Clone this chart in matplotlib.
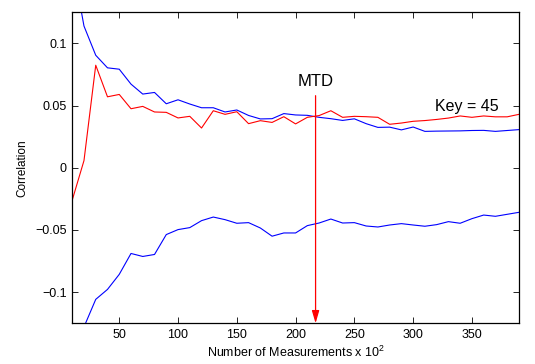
import matplotlib
matplotlib.use("Agg")
import matplotlib.pyplot as plt

plt.rcParams['font.family'] = ['Liberation Sans', 'DejaVu Sans']
plt.rcParams['mathtext.fontset'] = 'custom'
plt.rcParams['mathtext.rm'] = 'Liberation Sans'
plt.rcParams['mathtext.it'] = 'Liberation Sans:italic'

# Number of measurements (x 10^2)
measurements = list(range(10, 400, 10))

# Upper bound of wrong-key correlations (blue)
upper_blue = [0.166, 0.114, 0.0905, 0.0804, 0.0793, 0.0673, 0.0593, 0.0606, 0.0515, 0.0547,
              0.0513, 0.0483, 0.0483, 0.0449, 0.0465, 0.0421, 0.0393, 0.0395, 0.0436, 0.0425,
              0.0422, 0.0406, 0.0395, 0.0381, 0.0394, 0.0355, 0.0325, 0.0327, 0.0305, 0.0328,
              0.0293, 0.0295, 0.0296, 0.0297, 0.0300, 0.0301, 0.0293, 0.0300, 0.0307]

# Correct key correlation (red)
key_red = [-0.026, 0.0058, 0.0825, 0.0571, 0.0590, 0.0475, 0.0494, 0.0449, 0.0446, 0.0401,
           0.0414, 0.0320, 0.0459, 0.0430, 0.0451, 0.0355, 0.0379, 0.0365, 0.0411, 0.0353,
           0.0406, 0.0420, 0.0459, 0.0406, 0.0414, 0.0411, 0.0406, 0.0350, 0.0360, 0.0374,
           0.0380, 0.0389, 0.0400, 0.0417, 0.0406, 0.0417, 0.0410, 0.0410, 0.0430]

# Lower bound of wrong-key correlations (blue)
lower_blue = [-0.170, -0.128, -0.1058, -0.0978, -0.0857, -0.0689, -0.0713, -0.0697, -0.0537, -0.0497,
              -0.0481, -0.0425, -0.0396, -0.0417, -0.0446, -0.0441, -0.0484, -0.0550, -0.0524, -0.0524,
              -0.0465, -0.0444, -0.0412, -0.0444, -0.0441, -0.0468, -0.0476, -0.0460, -0.0449, -0.0460,
              -0.0470, -0.0457, -0.0433, -0.0446, -0.0409, -0.0380, -0.0390, -0.0374, -0.0358]

x_ticks = [50, 100, 150, 200, 250, 300, 350]
y_ticks = [-0.1, -0.05, 0, 0.05, 0.1]
y_tick_labels = ['\u22120.1', '\u22120.05', '0', '0.05', '0.1']

mtd_x = 217
mtd_top = 0.058
mtd_label_y = 0.066
key_label = 'Key = 45'
key_pos = (346, 0.046)

fig = plt.figure(figsize=(5.35, 3.64), dpi=100)
ax = fig.add_axes([0.135, 0.112, 0.835, 0.854])

ax.plot(measurements, upper_blue, color='#0000ff', lw=0.8)
ax.plot(measurements, key_red, color='#ff0000', lw=0.8)
ax.plot(measurements, lower_blue, color='#0000ff', lw=0.8)

ax.set_xlim(10, 390)
ax.set_ylim(-0.125, 0.125)
ax.set_xticks(x_ticks)
ax.set_xticklabels([str(t) for t in x_ticks])
ax.set_yticks(y_ticks)
ax.set_yticklabels(y_tick_labels)

ax.tick_params(direction='in', length=4.5, width=0.6, top=True, right=True,
               labelsize=9, colors='black', pad=4)
for s in ax.spines.values():
    s.set_linewidth(0.9)

ax.set_xlabel('Number of Measurements x 10$^2$', fontsize=9, labelpad=3)
ax.set_ylabel('Correlation', fontsize=8.5, labelpad=5)

ax.annotate('', xy=(mtd_x, -0.125), xytext=(mtd_x, mtd_top),
            arrowprops=dict(arrowstyle='-|>,head_length=0.75,head_width=0.22',
                            color='#ff0000', lw=0.9, shrinkA=0, shrinkB=0,
                            mutation_scale=10))
ax.text(mtd_x, mtd_label_y, 'MTD', ha='center', va='baseline', fontsize=12)
ax.text(key_pos[0], key_pos[1], key_label, ha='center', va='baseline', fontsize=11.5)

fig.savefig('out.png', dpi=100)
